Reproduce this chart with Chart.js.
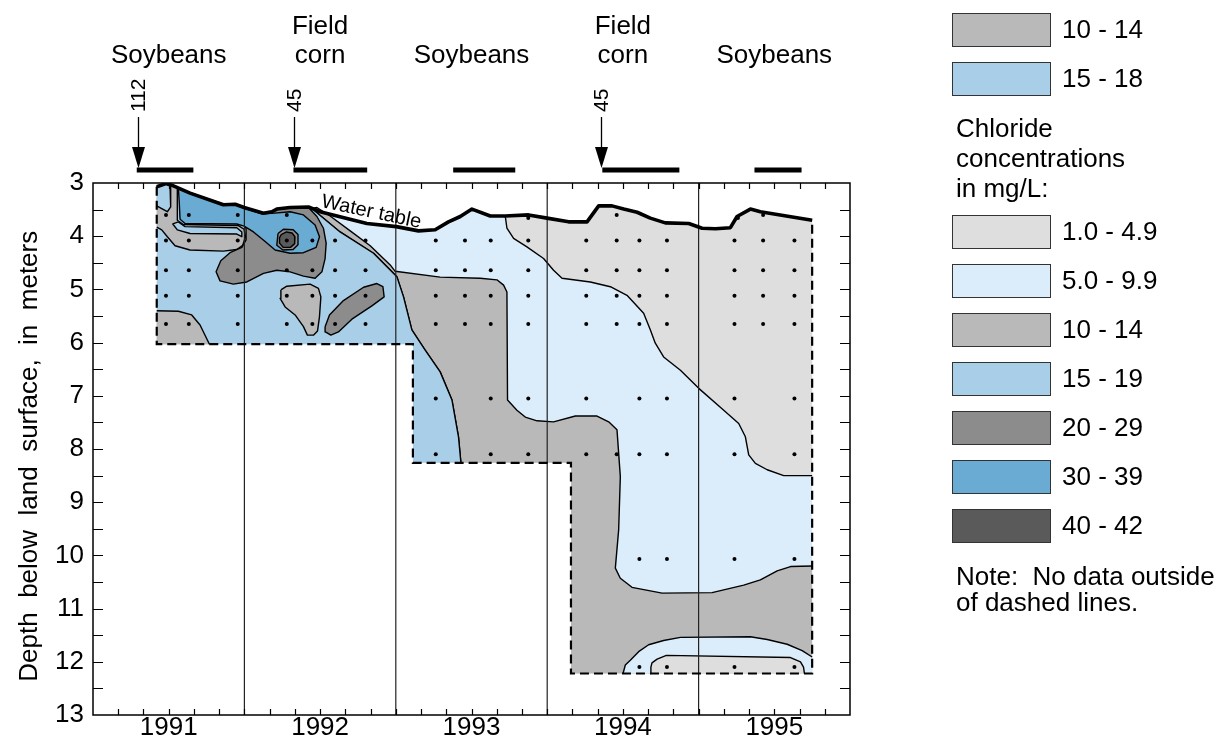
<!DOCTYPE html>
<html><head><meta charset="utf-8">
<script src="https://cdn.jsdelivr.net/npm/chart.js@4.4.1/dist/chart.umd.min.js"></script>
<style>html,body{margin:0;padding:0;background:#fff;}canvas{display:block;}</style>
</head><body>
<canvas id="c" width="1230" height="744"></canvas>
<script>
// ---------------- DATA (time in years, depth in meters) ----------------
const yearCenters = [1991.5, 1992.5, 1993.5, 1994.5, 1995.5];
const yearLabels = ['1991', '1992', '1993', '1994', '1995'];
const yearBoundaries = [1992, 1993, 1994, 1995];
const depthMin = 3, depthMax = 13;

const cropLine1 = ['', 'Field', '', 'Field', ''];
const cropLine2 = ['Soybeans', 'corn', 'Soybeans', 'corn', 'Soybeans'];
const appT = [1991.294, 1992.328, 1994.358];
const appLabels = ['112', '45', '45'];
const seasonStart = [1991.289, 1992.324, 1993.379, 1994.364, 1995.369];
const seasonEnd = [1991.663, 1992.811, 1993.789, 1994.873, 1995.680];

// water table
const waterT = [1991.421, 1991.482, 1991.520, 1991.641, 1991.861, 1991.939, 1991.998, 1992.126, 1992.181, 1992.214, 1992.302, 1992.423, 1992.500, 1992.809, 1993.003, 1993.150, 1993.260, 1993.348, 1993.426, 1993.503, 1993.624, 1993.723, 1993.877, 1993.999, 1994.141, 1994.263, 1994.340, 1994.428, 1994.505, 1994.594, 1994.681, 1994.780, 1994.935, 1995.023, 1995.111, 1995.210, 1995.254, 1995.342, 1995.408, 1995.750];
const waterD = [3.07, 3.01, 3.04, 3.19, 3.41, 3.40, 3.46, 3.57, 3.54, 3.49, 3.46, 3.45, 3.54, 3.76, 3.82, 3.90, 3.88, 3.73, 3.63, 3.49, 3.62, 3.62, 3.60, 3.66, 3.73, 3.73, 3.43, 3.43, 3.49, 3.55, 3.66, 3.75, 3.76, 3.85, 3.86, 3.84, 3.63, 3.49, 3.54, 3.70];

// dashed "no data" boundary
const dashT = [1991.421, 1991.421, 1993.113, 1993.113, 1994.157, 1994.157, 1995.75, 1995.75];
const dashD = [3.07, 6.03, 6.03, 8.26, 8.26, 12.22, 12.22, 3.70];

// 1.0-4.9 upper right contour
const tlT = [1993.723, 1993.734, 1993.778, 1993.866, 1993.976, 1994.042, 1994.098, 1994.285, 1994.417, 1994.527, 1994.637, 1994.681, 1994.714, 1994.769, 1994.880, 1995.001, 1995.166, 1995.265, 1995.309, 1995.331, 1995.375, 1995.453, 1995.562, 1995.75];
const tlD = [3.62, 3.85, 4.04, 4.20, 4.42, 4.64, 4.79, 4.86, 4.95, 5.11, 5.45, 5.76, 6.01, 6.27, 6.52, 6.86, 7.27, 7.52, 7.77, 8.11, 8.27, 8.39, 8.50, 8.50];

// 10-14 large region, upper/right contour
const grT = [1992.445, 1992.479, 1992.566, 1992.699, 1992.831, 1992.963, 1992.996, 1993.293, 1993.558, 1993.668, 1993.712, 1993.734, 1993.738, 1993.800, 1993.855, 1993.933, 1994.042, 1994.186, 1994.329, 1994.406, 1994.461, 1994.483, 1994.472, 1994.450, 1994.483, 1994.560, 1994.759, 1995.089, 1995.298, 1995.408, 1995.519, 1995.607, 1995.75];
const grD = [3.48, 3.46, 3.62, 3.90, 4.18, 4.54, 4.66, 4.77, 4.79, 4.82, 4.92, 5.05, 7.08, 7.27, 7.40, 7.47, 7.49, 7.38, 7.38, 7.49, 7.64, 8.52, 9.52, 10.24, 10.43, 10.60, 10.71, 10.70, 10.56, 10.46, 10.29, 10.21, 10.20];
const grCornerT = [1995.75, 1994.157, 1994.157];
const grCornerD = [12.22, 12.22, 8.26];

// 15-19 / 10-14 contour (left strip)
const lbT = [1992.445, 1992.632, 1992.853, 1993.007, 1993.051, 1993.106, 1993.194, 1993.293, 1993.371, 1993.414, 1993.430];
const lbD = [3.48, 3.92, 4.32, 4.76, 5.14, 5.76, 6.14, 6.55, 7.08, 7.77, 8.26];
const lbCornerT = [1993.113, 1993.113, 1991.421];
const lbCornerD = [8.26, 6.03, 6.03];

// bottom 5.0-9.9 and 1.0-4.9 lenses
const arcT = [1994.501, 1994.516, 1994.549, 1994.604, 1994.670, 1994.769, 1994.880, 1995.342, 1995.453, 1995.585, 1995.684, 1995.75, 1995.75];
const arcD = [12.22, 12.06, 11.97, 11.81, 11.68, 11.60, 11.54, 11.53, 11.58, 11.67, 11.79, 11.91, 12.22];
const innerT = [1994.681, 1994.685, 1994.692, 1994.726, 1994.787, 1995.607, 1995.673, 1995.693, 1995.699];
const innerD = [12.22, 12.10, 12.02, 11.95, 11.88, 11.92, 12.00, 12.10, 12.22];

// 1991-1992 detail contours
const eT = [1991.421, 1991.564, 1991.652, 1991.707, 1991.769, 1991.421];
const eD = [5.40, 5.41, 5.48, 5.67, 6.03, 6.03];
const g1T = [1991.557, 1991.557, 1991.597, 1991.960, 1991.998, 1992.007, 1991.989, 1991.950, 1991.861, 1991.641, 1991.542, 1991.491, 1991.454, 1991.421];
const g1D = [3.09, 3.70, 3.78, 3.80, 3.87, 4.01, 4.17, 4.25, 4.28, 4.26, 4.18, 4.01, 3.88, 3.83];
const l0T = [1991.421, 1991.482, 1991.509, 1991.513, 1991.491, 1991.454, 1991.421];
const l0D = [3.08, 3.02, 3.06, 3.45, 3.54, 3.48, 3.43];
const l1T = [1991.564, 1991.608, 1991.950, 1991.983, 1991.983, 1991.950, 1991.641, 1991.557, 1991.527];
const l1D = [3.73, 3.82, 3.84, 3.92, 4.01, 3.96, 3.95, 3.88, 3.77];
const fT = [1992.241, 1992.280, 1992.434, 1992.489, 1992.505, 1992.496, 1992.483, 1992.456, 1992.416, 1992.390, 1992.335, 1992.269, 1992.236];
const fD = [5.01, 4.94, 4.90, 4.98, 5.14, 5.51, 5.78, 5.86, 5.86, 5.70, 5.48, 5.33, 5.17];
const hT = [1992.533, 1992.562, 1992.654, 1992.787, 1992.875, 1992.915, 1992.923, 1992.842, 1992.710, 1992.621, 1992.571, 1992.535];
const hD = [5.70, 5.48, 5.21, 4.96, 4.89, 4.95, 5.14, 5.31, 5.56, 5.80, 5.86, 5.80];
const d20T = [1991.998, 1992.126, 1992.181, 1992.214, 1992.346, 1992.423, 1992.479, 1992.522, 1992.540, 1992.533, 1992.512, 1992.467, 1992.390, 1992.302, 1992.214, 1992.126, 1992.016, 1991.927, 1991.839, 1991.813, 1991.844, 1991.905, 1991.983, 1992.011, 1992.011, 1992.005];
const d20D = [3.46, 3.56, 3.53, 3.49, 3.46, 3.46, 3.63, 3.85, 4.13, 4.42, 4.67, 4.79, 4.75, 4.67, 4.64, 4.70, 4.86, 4.90, 4.84, 4.67, 4.46, 4.31, 4.21, 4.07, 3.88, 3.70];
const b30T = [1991.564, 1991.641, 1991.751, 1991.861, 1991.950, 1992.016, 1992.115, 1992.181, 1992.302, 1992.390, 1992.467, 1992.496, 1992.474, 1992.390, 1992.302, 1992.203, 1992.137, 1992.060, 1991.998, 1991.950, 1991.608, 1991.575, 1991.570];
const b30D = [3.10, 3.18, 3.29, 3.40, 3.41, 3.49, 3.58, 3.57, 3.54, 3.60, 3.79, 4.01, 4.21, 4.31, 4.32, 4.26, 4.10, 3.92, 3.81, 3.77, 3.76, 3.68, 3.38];
const ringT = [1992.222, 1992.258, 1992.322, 1992.354, 1992.354, 1992.322, 1992.254, 1992.214];
const ringD = [3.95, 3.87, 3.88, 3.97, 4.16, 4.25, 4.26, 4.17];
const c40T = [1992.243, 1992.278, 1992.315, 1992.334, 1992.332, 1992.304, 1992.256, 1992.232, 1992.232];
const c40D = [3.97, 3.92, 3.94, 4.01, 4.14, 4.21, 4.21, 4.13, 4.03];

// sampling points
const dotTopT = [1991.482, 1991.633, 1991.956, 1992.280, 1993.875, 1994.459, 1995.260, 1995.426];
const dotTopD = [3.60, 3.60, 3.60, 3.60, 3.66, 3.60, 3.66, 3.60];
const dotColsA = [1991.482, 1991.633, 1991.956, 1992.280, 1992.449, 1992.599, 1992.800, 1993.264, 1993.457, 1993.627, 1993.875, 1994.258, 1994.459, 1994.609, 1994.791, 1995.237, 1995.426, 1995.633];
const dotDepthsA = [4.08, 4.64, 5.12, 5.65];
const dotColsB = [1993.264, 1993.627, 1993.875, 1994.258, 1994.609, 1994.791, 1995.237, 1995.633];
const dotDepthB = 7.05;
const dotColsC = [1993.264, 1993.627, 1993.875, 1994.258, 1994.459, 1994.609, 1994.791, 1995.237, 1995.633];
const dotDepthC = 8.10;
const dotColsD = [1994.609, 1994.791, 1995.237, 1995.633];
const dotDepthsD = [10.07, 12.10];

// legend
const legendTopLabels = ['10 - 14', '15 - 18'];
const legendLabels = ['1.0 - 4.9', '5.0 - 9.9', '10 - 14', '15 - 19', '20 - 29', '30 - 39', '40 - 42'];
const legendHeading = ['Chloride', 'concentrations', 'in mg/L:'];
const legendNote = ['Note:  No data outside', 'of dashed lines.'];
const yTitle = 'Depth  below  land  surface,  in  meters  ';

// ---------------- STYLE ----------------
const FONT = "'Liberation Sans', Arial, Helvetica, sans-serif";
const C1 = '#dedede', C5 = '#dbedfb', C10 = '#b9b9b9', C15 = '#a9cfe8', C20 = '#8c8c8c', C30 = '#6aabd3', C40 = '#5a5a5a';
const legendTopColors = [C10, C15];
const legendColors = [C1, C5, C10, C15, C20, C30, C40];

// ---------------- BUILD ----------------
const pts = (T, D) => T.map((t, i) => ({x: t, y: D[i]}));
const water = pts(waterT, waterD);
const dash = pts(dashT, dashD);
const closeP = a => [...a, a[0]];
const isEdge = (a, b) => (a.x === b.x && dashT.includes(a.x)) || (a.y === b.y && [6.03, 8.26, 12.22].includes(a.y));

const layers = [];
function addRegion(points, color) {
  const p = closeP(points);
  layers.push({data: p, fill: 'shape', backgroundColor: color, borderColor: 'rgba(0,0,0,0)', borderWidth: 0, pointRadius: 0});
  layers.push({data: p, fill: false, borderColor: '#000', borderWidth: 1.4, pointRadius: 0, borderJoinStyle: 'round',
    segment: {borderColor: c => isEdge(p[c.p0DataIndex], p[c.p1DataIndex]) ? 'rgba(0,0,0,0)' : '#000'}});
}
const base = [...water, ...dash.slice().reverse().slice(1, -1)];
layers.push({data: closeP(base), fill: 'shape', backgroundColor: C5, borderColor: 'rgba(0,0,0,0)', borderWidth: 0, pointRadius: 0});
addRegion([...pts(tlT, tlD), ...water.filter(p => p.x > tlT[0]).reverse()], C1);
addRegion([...pts(grT, grD), ...pts(grCornerT, grCornerD), ...pts(lbT, lbD).reverse().slice(0, -1)], C10);
addRegion(pts(arcT, arcD), C5);
addRegion(pts(innerT, innerD), C1);
addRegion([...water.filter(p => p.x < lbT[0]), ...pts(lbT, lbD), ...pts(lbCornerT, lbCornerD)], C15);
addRegion(pts(eT, eD), C10);
addRegion([...water.filter(p => p.x <= 1991.52), ...pts(g1T, g1D)], C10);
addRegion(pts(l0T, l0D), C15);
addRegion(pts(l1T, l1D), C15);
addRegion(pts(fT, fD), C10);
addRegion(pts(hT, hD), C20);
addRegion(pts(d20T, d20D), C20);
addRegion(pts(b30T, b30D), C30);
addRegion(pts(ringT, ringD), C20);
addRegion(pts(c40T, c40D), C40);
yearBoundaries.forEach(t => layers.push({data: [{x: t, y: depthMin}, {x: t, y: depthMax}], fill: false, borderColor: '#222', borderWidth: 1.2, pointRadius: 0}));
const dots = [...pts(dotTopT, dotTopD)];
dotDepthsA.forEach(d => dotColsA.forEach(t => dots.push({x: t, y: d})));
dotColsB.forEach(t => dots.push({x: t, y: dotDepthB}));
dotColsC.forEach(t => dots.push({x: t, y: dotDepthC}));
dotDepthsD.forEach(d => dotColsD.forEach(t => dots.push({x: t, y: d})));
layers.push({data: dots, showLine: false, fill: false, pointRadius: 2, pointBackgroundColor: '#000', pointBorderWidth: 0, borderColor: 'rgba(0,0,0,0)'});
layers.push({data: water, fill: false, borderColor: '#000', borderWidth: 3.6, pointRadius: 0, borderJoinStyle: 'round'});
layers.push({data: dash, fill: false, borderColor: '#000', borderWidth: 2.2, borderDash: [9, 5], pointRadius: 0});

const datasets = layers.map((ds, i) => Object.assign({tension: 0, order: layers.length - i}, ds));

// ---------------- DECORATION PLUGIN ----------------
const decor = {
  id: 'decor',
  afterDraw(chart) {
    const {ctx, chartArea: a, scales: {x, y}} = chart;
    ctx.save();
    ctx.strokeStyle = '#000';
    ctx.lineWidth = 1.5;
    ctx.strokeRect(a.left, a.top, a.right - a.left, a.bottom - a.top);
    ctx.lineWidth = 1.2;
    ctx.beginPath();
    for (let k = 1; k < 30; k++) {
      const px = Math.round(x.getPixelForValue(1991 + k / 6)) + 0.5;
      ctx.moveTo(px, a.top); ctx.lineTo(px, a.top + 6);
      ctx.moveTo(px, a.bottom); ctx.lineTo(px, a.bottom - 6);
    }
    for (let v = depthMin + 0.5; v < depthMax; v += 0.5) {
      const py = Math.round(y.getPixelForValue(v)) + 0.5;
      ctx.moveTo(a.left, py); ctx.lineTo(a.left + 10, py);
      ctx.moveTo(a.right, py); ctx.lineTo(a.right - 10, py);
    }
    ctx.stroke();

    // crop labels
    ctx.fillStyle = '#000';
    ctx.font = '26px ' + FONT;
    ctx.textAlign = 'center';
    ctx.textBaseline = 'alphabetic';
    yearCenters.forEach((t, i) => {
      const px = x.getPixelForValue(t);
      if (cropLine1[i]) ctx.fillText(cropLine1[i], px, 34);
      ctx.fillText(cropLine2[i], px, 63);
    });
    // growing seasons
    seasonStart.forEach((t, i) => {
      const x0 = x.getPixelForValue(t), x1 = x.getPixelForValue(seasonEnd[i]);
      ctx.fillRect(x0, 167.5, x1 - x0, 5);
    });
    // application arrows
    appT.forEach((t, i) => {
      const px = Math.round(x.getPixelForValue(t)) + 0.5;
      ctx.lineWidth = 1.3;
      ctx.beginPath(); ctx.moveTo(px, 117); ctx.lineTo(px, 150); ctx.stroke();
      ctx.beginPath(); ctx.moveTo(px - 6.5, 147); ctx.lineTo(px + 6.5, 147); ctx.lineTo(px, 168); ctx.closePath(); ctx.fill();
      ctx.save();
      ctx.translate(px, 112);
      ctx.rotate(-Math.PI / 2);
      ctx.font = '21px ' + FONT;
      ctx.textAlign = 'left';
      ctx.textBaseline = 'middle';
      ctx.fillText(appLabels[i], 0, 1);
      ctx.restore();
    });
    // water table label
    ctx.save();
    ctx.translate(x.getPixelForValue(1992.831), y.getPixelForValue(3.65));
    ctx.rotate(12 * Math.PI / 180);
    ctx.font = '20px ' + FONT;
    ctx.textAlign = 'center';
    ctx.textBaseline = 'alphabetic';
    ctx.fillText('Water table', 0, 0);
    ctx.restore();

    // legend
    const bx = 952, bw = 99, bh = 34, tx = 1062;
    const drawBox = (yy, color, label) => {
      ctx.fillStyle = color;
      ctx.fillRect(bx, yy, bw, bh);
      ctx.strokeStyle = '#333'; ctx.lineWidth = 1;
      ctx.strokeRect(bx + 0.5, yy + 0.5, bw - 1, bh - 1);
      ctx.fillStyle = '#000';
      ctx.font = '26px ' + FONT;
      ctx.textAlign = 'left';
      ctx.textBaseline = 'middle';
      ctx.fillText(label, tx, yy + bh / 2 + 1);
    };
    legendTopLabels.forEach((l, i) => drawBox(13 + 49 * i, legendTopColors[i], l));
    legendLabels.forEach((l, i) => drawBox(215 + 49 * i, legendColors[i], l));
    ctx.fillStyle = '#000';
    ctx.font = '26px ' + FONT;
    ctx.textAlign = 'left';
    ctx.textBaseline = 'middle';
    legendHeading.forEach((l, i) => ctx.fillText(l, 956, 130 + 30 * i));
    legendNote.forEach((l, i) => ctx.fillText(l, 956, 578 + 26 * i));
    ctx.restore();
  }
};

new Chart(document.getElementById('c'), {
  type: 'line',
  data: {datasets},
  options: {
    responsive: false, animation: false, devicePixelRatio: 1, events: [],
    layout: {padding: {left: 0, top: 183, right: 380, bottom: 0}},
    plugins: {legend: {display: false}, tooltip: {enabled: false}, title: {display: false}},
    scales: {
      x: {
        type: 'linear', min: 1991, max: 1996,
        grid: {display: false, drawTicks: false}, border: {display: false},
        afterBuildTicks: s => { s.ticks = yearCenters.map(v => ({value: v})); },
        afterFit: s => { s.height = 29; },
        ticks: {autoSkip: false, maxRotation: 0, padding: 0, color: '#000',
          font: {family: FONT, size: 26, lineHeight: 1}, callback: (v, i) => yearLabels[i]}
      },
      y: {
        type: 'linear', reverse: true, min: depthMin, max: depthMax,
        grid: {display: false, drawTicks: false}, border: {display: false},
        afterFit: s => { s.width = 93; },
        ticks: {stepSize: 1, padding: 9, color: '#000', font: {family: FONT, size: 26}},
        title: {display: true, text: yTitle, color: '#000',
          font: {family: FONT, size: 26}, padding: {top: 14, bottom: 0}}
      }
    }
  },
  plugins: [decor]
});
</script>
</body></html>
